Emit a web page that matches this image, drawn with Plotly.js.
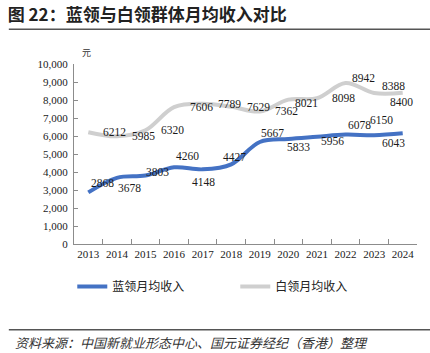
<!DOCTYPE html>
<html>
<head>
<meta charset="utf-8">
<script src="https://cdn.plot.ly/plotly-3.0.1.min.js"></script>
<style>html,body{margin:0;padding:0;background:#fff;}#chart{width:430px;height:353px;}</style>
</head>
<body>
<div id="chart"></div>
<script>
// ---- data ----
const years = ['2013','2014','2015','2016','2017','2018','2019','2020','2021','2022','2023','2024'];
const blueCollar = [2868, 3678, 3803, 4260, 4148, 4427, 5667, 5833, 5956, 6078, 6043, 6150];
const whiteCollar = [6212, 5985, 6320, 7606, 7789, 7629, 7362, 8021, 8098, 8942, 8388, 8400];
const seriesNames = ['蓝领月均收入', '白领月均收入'];
const yTickVals = [0,1000,2000,3000,4000,5000,6000,7000,8000,9000,10000];
const yTickText = ['0','1,000','2,000','3,000','4,000','5,000','6,000','7,000','8,000','9,000','10,000'];
const unitLabel = '元';
const sourceNote = '资料来源：中国新就业形态中心、国元证券经纪（香港）整理';
const chartTitle = '图 22：蓝领与白领群体月均收入对比';

// ---- label offsets (style) ----
const blueShiftX = [14, 13, 12, 13, 1, 3, 13, 10, 16, 14, 19, -21];
const blueShiftY = [9, -10, 4, 11, -13, 7, 9, -8, -4, 10, -8, 13];
const whiteShiftX = [26, 27, 27, 27, 27, 27, 27, 18, 27, 18, 19, -1];
const whiteShiftY = [0, 0, 0, 0, 0, 0, 0, -3, 0, 5, 7, -9];

const serif = 'Liberation Serif';
const cjk = 'Noto Sans CJK SC';

const traces = [
  {x: years, y: blueCollar, name: seriesNames[0], type: 'scatter', mode: 'lines',
   line: {color: '#4472C4', width: 4, shape: 'spline', smoothing: 1}},
  {x: years, y: whiteCollar, name: seriesNames[1], type: 'scatter', mode: 'lines',
   line: {color: '#CFCFCF', width: 4, shape: 'spline', smoothing: 1}}
];

const annotations = [];
years.forEach((yr, i) => {
  annotations.push({x: i, y: blueCollar[i], xref: 'x', yref: 'y', text: String(blueCollar[i]),
    showarrow: false, xshift: blueShiftX[i], yshift: blueShiftY[i],
    font: {family: serif, size: 11.5, color: '#1a1a1a'}});
  annotations.push({x: i, y: whiteCollar[i], xref: 'x', yref: 'y', text: String(whiteCollar[i]),
    showarrow: false, xshift: whiteShiftX[i], yshift: whiteShiftY[i],
    font: {family: serif, size: 11.5, color: '#1a1a1a'}});
});
annotations.push({x: 0.037, y: 1.064, xref: 'paper', yref: 'paper', xanchor: 'center', yanchor: 'middle',
  text: unitLabel, showarrow: false, font: {family: cjk, size: 9, color: '#333'}});
annotations.push({x: -0.178, y: -0.548, xref: 'paper', yref: 'paper', xanchor: 'left', yanchor: 'middle',
  text: '<i>' + sourceNote + '</i>', showarrow: false,
  font: {family: cjk, size: 13, color: '#333'}});

const layout = {
  width: 430, height: 353,
  margin: {l: 74, r: 13, t: 64.3, b: 108.7, pad: 0},
  paper_bgcolor: '#fff', plot_bgcolor: '#fff',
  showlegend: true,
  title: {text: '<b>' + chartTitle + '</b>', xref: 'container', yref: 'container',
    x: 0.018, xanchor: 'left', y: 1 - 15/353, yanchor: 'middle',
    font: {family: cjk, size: 17, color: '#222'}},
  xaxis: {type: 'category', range: [-0.5, 11.5], showgrid: false, zeroline: false,
    showline: true, linecolor: '#8c8c8c', linewidth: 1, tickangle: 0,
    ticks: 'inside', ticklen: 5, tickcolor: '#8c8c8c', tickson: 'boundaries',
    tickfont: {family: serif, size: 11, color: '#1a1a1a'}, fixedrange: true},
  yaxis: {range: [0, 10000], tickvals: yTickVals, ticktext: yTickText, showgrid: false, zeroline: false,
    showline: true, linecolor: '#8c8c8c', linewidth: 1,
    ticks: 'inside', ticklen: 4, tickcolor: '#8c8c8c', ticklabelstandoff: 3,
    tickfont: {family: serif, size: 11, color: '#1a1a1a'}, fixedrange: true},
  legend: {orientation: 'h', x: -0.005, xanchor: 'left', y: -0.155, yanchor: 'top',
    entrywidth: 118, entrywidthmode: 'pixels',
    font: {family: cjk, size: 12, color: '#222'}, bgcolor: 'rgba(0,0,0,0)'},
  shapes: [
    {type: 'line', xref: 'paper', yref: 'paper', x0: -0.19, x1: 1.04, y0: 1.193, y1: 1.193,
     line: {color: '#555', width: 1.5}},
    {type: 'line', xref: 'paper', yref: 'paper', x0: -0.19, x1: 1.04, y0: -0.476, y1: -0.476,
     line: {color: '#555', width: 1.5}}
  ],
  annotations: annotations
};

Plotly.newPlot('chart', traces, layout, {displayModeBar: false, staticPlot: true});
</script>
</body>
</html>
